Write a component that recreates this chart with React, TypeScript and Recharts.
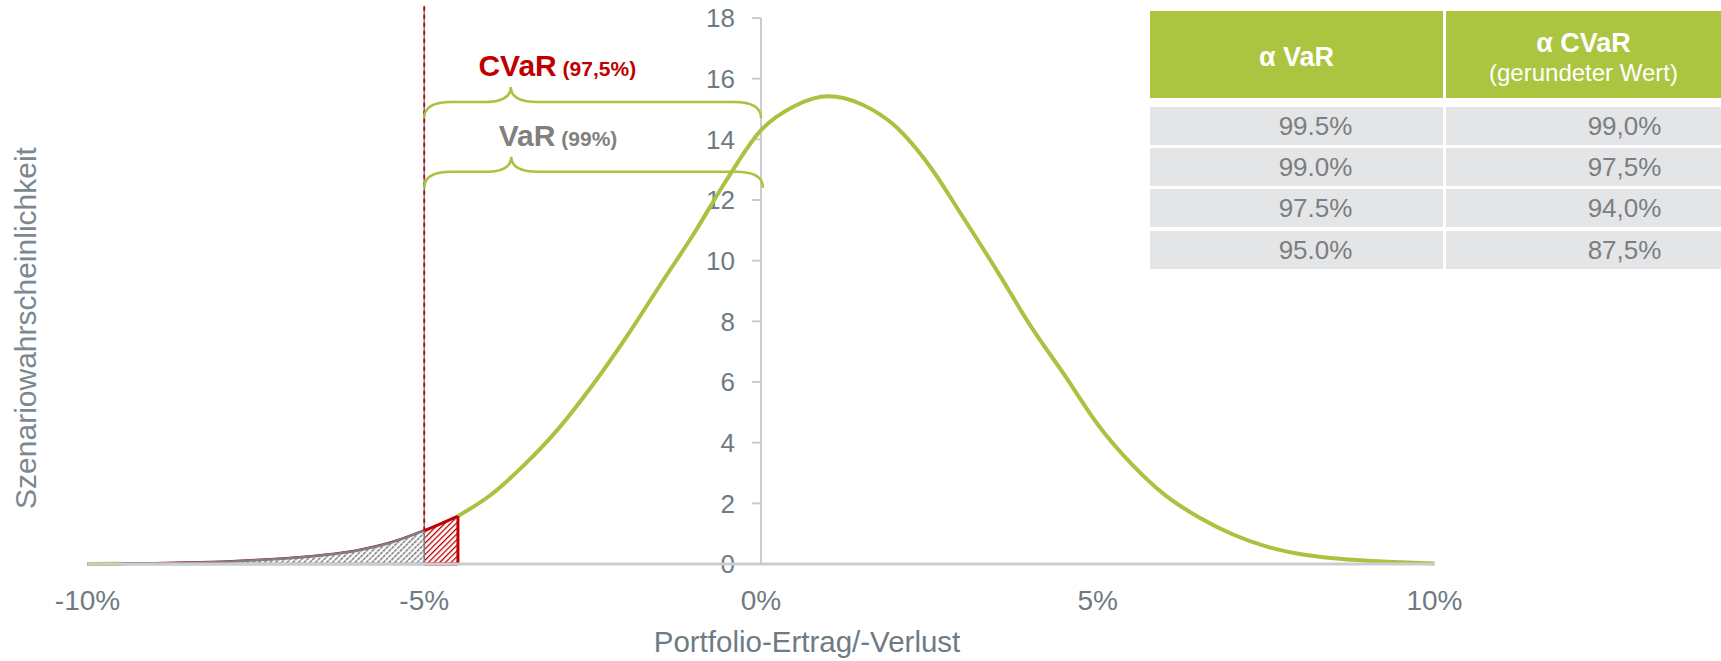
import { Area, ComposedChart, Line, ReferenceLine, XAxis, YAxis } from 'recharts';

// Portfolio-Ertrag in % und Szenariowahrscheinlichkeit
const returnPct = [
  -10, -9.5, -9, -8.5, -8, -7.5, -7, -6.5, -6, -5.5, -5, -4.5, -4, -3.5, -3, -2.5, -2, -1.5, -1, -0.5, 0,
  0.5, 1, 1.5, 2, 2.5, 3, 3.5, 4, 4.5, 5, 5.5, 6, 6.5, 7, 7.5, 8, 8.5, 9, 9.5, 10,
];
const density = [
  0.0, 0.01, 0.02, 0.04, 0.07, 0.12, 0.19, 0.29, 0.44, 0.7, 1.1, 1.58, 2.3, 3.3, 4.48, 5.9, 7.48, 9.19, 10.88, 12.7, 14.3,
  15.1, 15.42, 15.15, 14.42, 13.13, 11.43, 9.68, 7.86, 6.25, 4.6, 3.3, 2.27, 1.54, 0.98, 0.58, 0.33, 0.19, 0.11, 0.06, 0.02,
];
const xTicks = [-10, -5, 0, 5, 10];
const yTicks = [0, 2, 4, 6, 8, 10, 12, 14, 16, 18];

const varLevel = -5; // VaR (99%)
const cvarLevel = -4.5; // CVaR (97,5%)

// Tabelle
const headVar = 'α VaR';
const headCvar = 'α CVaR';
const headCvarNote = '(gerundeter Wert)';
const varAlphas = ['99.5%', '99.0%', '97.5%', '95.0%'];
const cvarAlphas = ['99,0%', '97,5%', '94,0%', '87,5%'];

const GREEN = '#a9c23f';
const RED = '#c00000';
const GRAY = '#808080';
const AXIS = '#c9cdd1';
const TICK = '#6f7b84';

const data = returnPct.map((x, i) => ({
  x,
  // grüne Kurve erst ab dem CVaR-Bereich, links davon liegen die schraffierten Flächen
  y: x >= cvarLevel || x <= -9.5 ? density[i] : null,
  red: x <= cvarLevel ? density[i] : null,
  gray: x <= varLevel ? density[i] : null,
}));

const at = (x: number) => density[returnPct.indexOf(x)];

const YTick = (p: any) => (
  <g>
    <line x1={p.x1 - 9} x2={p.x1} y1={p.y1} y2={p.y1} stroke={AXIS} strokeWidth={2} />
    <text x={p.x1 - 26} y={p.y1} dy="0.36em" textAnchor="end" fill={TICK} fontSize={26}>
      {p.value}
    </text>
  </g>
);

const Brace = (p: any) => {
  const { x1, y1, x2 } = p;
  const yl = y1 - 16;
  const yt = y1 - 31;
  const tip = x1 + (x2 - x1) * 0.257;
  const r = 27;
  const d = `M${x1},${y1} Q${x1},${yl} ${x1 + r},${yl} L${tip - r},${yl} Q${tip},${yl} ${tip},${yt} Q${tip},${yl} ${tip + r},${yl} L${x2 - r},${yl} Q${x2},${yl} ${x2},${y1}`;
  return (
    <g>
      <path d={d} fill="none" stroke={GREEN} strokeWidth={2.5} />
      <text x={x1 + (x2 - x1) * 0.395} y={y1 - 42} textAnchor="middle" fill={p.color} fontWeight="bold" fontSize={30}>
        {p.text}
        <tspan fontSize={21}> {p.small}</tspan>
      </text>
    </g>
  );
};

const cell = {
  position: 'absolute' as const,
  display: 'flex',
  alignItems: 'center',
  justifyContent: 'center',
  boxSizing: 'border-box' as const,
};

const rowTops = [107, 148, 189, 231];

export default function App() {
  return (
    <div
      style={{
        position: 'absolute',
        left: 0,
        top: 0,
        width: 1721,
        height: 661,
        background: '#fff',
        fontFamily: "Arial, 'Liberation Sans', sans-serif",
      }}
    >
      <ComposedChart width={1721} height={661} data={data} margin={{ top: 18, right: 286.5, left: 0, bottom: 67 }}>
        <defs>
          <pattern id="hatchRed" patternUnits="userSpaceOnUse" width={4} height={4} patternTransform="rotate(45)">
            <rect width={4} height={4} fill="#fff" />
            <rect x={0} y={0} width={1.3} height={4} fill={RED} />
          </pattern>
          <pattern id="hatchGray" patternUnits="userSpaceOnUse" width={4} height={4} patternTransform="rotate(45)">
            <rect width={4} height={4} fill="#fff" />
            <rect x={0} y={0} width={1.5} height={3.3} fill="#777" />
          </pattern>
        </defs>
        <XAxis
          dataKey="x"
          type="number"
          domain={[-10, 10]}
          ticks={xTicks}
          tickFormatter={(v) => `${v}%`}
          axisLine={{ stroke: AXIS, strokeWidth: 3 }}
          tickLine={false}
          tickSize={0}
          tickMargin={26}
          tick={{ fill: TICK, fontSize: 28 }}
          height={30}
          label={{
            content: ({ viewBox }: any) => (
              <text x={viewBox.x + viewBox.width / 2 + 46} y={viewBox.y + 88} textAnchor="middle" fill={TICK} fontSize={29.5}>
                Portfolio-Ertrag/-Verlust
              </text>
            ),
          }}
        />
        <YAxis
          type="number"
          domain={[0, 18]}
          ticks={yTicks}
          width={87.5}
          axisLine={false}
          tickLine={false}
          tick={false}
          label={{
            content: ({ viewBox }: any) => {
              const cx = viewBox.x + 25;
              const cy = viewBox.y + viewBox.height / 2 + 37;
              return (
                <text x={cx} y={cy} dy="0.35em" textAnchor="middle" fill="#7d878e" fontSize={30} transform={`rotate(-90 ${cx} ${cy})`}>
                  Szenariowahrscheinlichkeit
                </text>
              );
            },
          }}
        />
        <ReferenceLine x={0} stroke={AXIS} strokeWidth={2} />
        {yTicks.map((t) => (
          <ReferenceLine
            key={t}
            segment={[{ x: 0, y: t }, { x: 0, y: t }]}
            ifOverflow="visible"
            shape={(p: any) => <YTick {...p} value={t} />}
          />
        ))}
        <Line dataKey="y" type="monotone" stroke={GREEN} strokeWidth={4} dot={false} activeDot={false} isAnimationActive={false} />
        <Area dataKey="red" type="monotone" stroke={RED} strokeWidth={3} fill="url(#hatchRed)" fillOpacity={1} dot={false} activeDot={false} isAnimationActive={false} />
        <Area dataKey="gray" type="monotone" stroke="#7f7f7f" strokeWidth={2.5} fill="url(#hatchGray)" fillOpacity={1} dot={false} activeDot={false} isAnimationActive={false} />
        <ReferenceLine segment={[{ x: cvarLevel, y: 0 }, { x: cvarLevel, y: at(cvarLevel) }]} stroke={RED} strokeWidth={3} />
        <ReferenceLine segment={[{ x: varLevel, y: 0 }, { x: cvarLevel, y: 0 }]} stroke={RED} strokeWidth={3} />
        <ReferenceLine segment={[{ x: -9.6, y: 0 }, { x: varLevel, y: 0 }]} stroke="#7f7f7f" strokeWidth={2.5} />
        <ReferenceLine segment={[{ x: varLevel, y: 0 }, { x: varLevel, y: 18.4 }]} stroke="#7f7f7f" strokeWidth={1.6} ifOverflow="visible" />
        <ReferenceLine
          segment={[{ x: varLevel, y: at(varLevel) }, { x: varLevel, y: 18.4 }]}
          stroke={RED}
          strokeWidth={1.8}
          strokeDasharray="4 4"
          ifOverflow="visible"
        />
        <ReferenceLine
          segment={[{ x: varLevel, y: 14.7 }, { x: 0, y: 14.7 }]}
          ifOverflow="visible"
          shape={(p: any) => <Brace {...p} text="CVaR" small="(97,5%)" color={RED} />}
        />
        <ReferenceLine
          segment={[{ x: varLevel, y: 12.4 }, { x: 0.03, y: 12.4 }]}
          ifOverflow="visible"
          shape={(p: any) => <Brace {...p} text="VaR" small="(99%)" color={GRAY} />}
        />
      </ComposedChart>

      {/* Tabelle rechts oben */}
      <div style={{ ...cell, left: 1150, top: 11, width: 293, height: 87, background: '#acc540', color: '#fff', fontWeight: 'bold', fontSize: 27, paddingTop: 5 }}>
        {headVar}
      </div>
      <div
        style={{
          ...cell,
          left: 1446,
          top: 11,
          width: 275,
          height: 87,
          background: '#acc540',
          color: '#fff',
          flexDirection: 'column',
          lineHeight: '29px',
          paddingTop: 6,
        }}
      >
        <div style={{ fontWeight: 'bold', fontSize: 27 }}>{headCvar}</div>
        <div style={{ fontSize: 24 }}>{headCvarNote}</div>
      </div>
      {varAlphas.map((v, i) => (
        <div key={`v${i}`} style={{ ...cell, left: 1150, top: rowTops[i], width: 293, height: 38, background: '#e4e5e7', color: '#7b7e82', fontSize: 26, paddingLeft: 38 }}>
          {v}
        </div>
      ))}
      {cvarAlphas.map((v, i) => (
        <div key={`c${i}`} style={{ ...cell, left: 1446, top: rowTops[i], width: 275, height: 38, background: '#e4e5e7', color: '#7b7e82', fontSize: 26, paddingLeft: 82 }}>
          {v}
        </div>
      ))}
    </div>
  );
}
